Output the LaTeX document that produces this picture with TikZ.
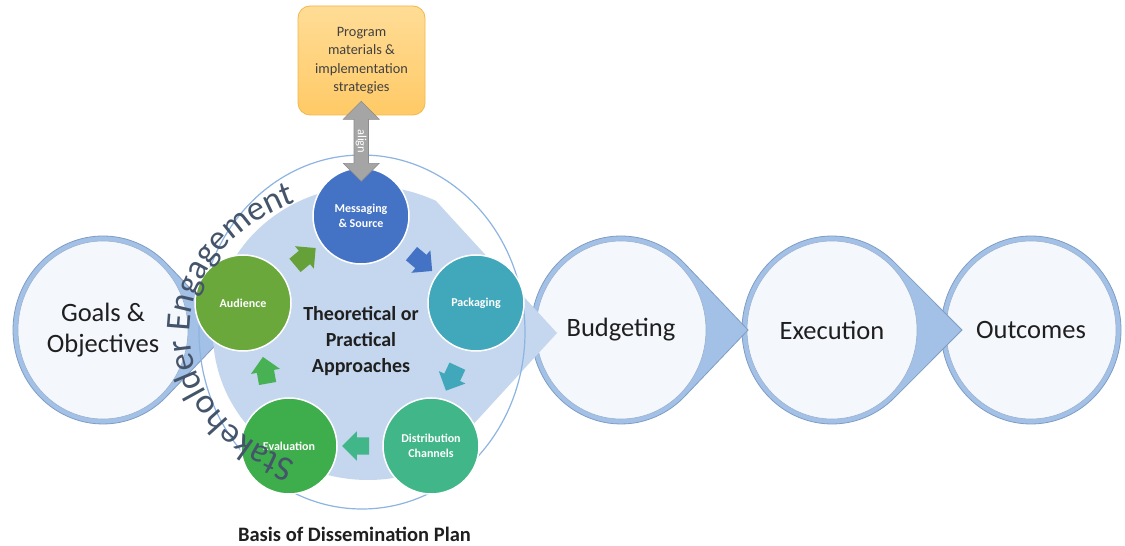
\documentclass[tikz,border=0pt]{standalone}
\usepackage{fontspec}
\setmainfont{Carlito}
\usetikzlibrary{calc,shapes.arrows,decorations.text}
\definecolor{ringblue}{HTML}{A3C1E6}
\definecolor{ringedge}{HTML}{7F9DC4}
\definecolor{innerfill}{HTML}{F4F7FC}
\definecolor{bigfill}{HTML}{C4D7EF}
\definecolor{thinline}{HTML}{8DB4E2}
\definecolor{cmsg}{HTML}{4472C4}
\definecolor{cpack}{HTML}{41A7BA}
\definecolor{cdist}{HTML}{40B689}
\definecolor{ceval}{HTML}{3EAD4B}
\definecolor{caud}{HTML}{6AA83C}
\definecolor{stk}{HTML}{44546A}
\definecolor{txt}{HTML}{1F1F1F}
\definecolor{boxtop}{HTML}{FFDC96}
\definecolor{boxbot}{HTML}{FFCA66}
\definecolor{boxedge}{HTML}{F2B84B}
\definecolor{graya}{HTML}{A5A5A5}
\definecolor{grayb}{HTML}{8C8C8C}
\newcommand\ringarrow[5]{%
  \pgfmathsetmacro\myang{acos(#3/#5)}%
  \filldraw[fill=ringblue, draw=ringedge, line width=0.8pt]
    (#1+#5,#2) -- ([shift={(#1,#2)}]\myang:#3pt and #4pt)
    arc[start angle=\myang, end angle=360-\myang, x radius=#3pt, y radius=#4pt] -- cycle;
  \filldraw[fill=innerfill, draw=ringedge!80, line width=0.6pt]
    (#1,#2) ellipse[x radius=#3pt-5pt, y radius=#4pt-5pt];
}
\newcommand\ringplain[4]{%
  \filldraw[fill=ringblue, draw=ringedge, line width=0.8pt]
    (#1,#2) ellipse[x radius=#3pt, y radius=#4pt];
  \filldraw[fill=innerfill, draw=ringedge!80, line width=0.6pt]
    (#1,#2) ellipse[x radius=#3pt-5pt, y radius=#4pt-5pt];
}
\begin{document}
\begin{tikzpicture}[x=1pt,y=1pt,
  bigtxt/.style={font=\fontsize{26.5}{31}\selectfont, text=txt, align=center, inner sep=0pt},
  smallc/.style={circle, minimum size=96pt, inner sep=0pt, draw=white, line width=1.5pt,
    text=white, font=\bfseries\fontsize{12}{15}\selectfont, align=center},
  cyc/.style={single arrow, fill=#1, draw=none, minimum height=27pt, minimum width=29pt,
    single arrow head extend=6pt, inner sep=0pt}
]
\useasboundingbox (0,0) rectangle (1125,546);
\fill[white] (0,0) rectangle (1125,546);

% right-hand chain (drawn back to front)
\ringplain{1031}{216}{90}{94}
\ringarrow{832}{216}{90}{94}{130}
\ringarrow{621}{216}{90}{94}{127}
\ringarrow{103}{216}{90}{94}{127}

% big light shape
\fill[bigfill] ([shift={(368,213)}]64:155pt and 147pt)
  arc[start angle=64, end angle=296, x radius=155pt, y radius=147pt] -- (557,213) -- cycle;
\draw[thinline, line width=1.2pt] (362,214) ellipse[x radius=163pt, y radius=177pt];

% cycle circles
\node[smallc, fill=cmsg]  (msg)  at (361,330) {Messaging\\\& Source};
\node[smallc, fill=cpack] (pack) at (476,243) {Packaging};
\node[smallc, fill=cdist] (dist) at (431,100) {Distribution\\Channels};
\node[smallc, fill=ceval] (eval) at (289,100) {Evaluation};
\node[smallc, fill=caud]  (aud)  at (243,243) {Audience};

% cycle arrows
\node[cyc=caud!95!black, rotate=40]   (a1) at ($(aud)!0.5!(msg)$) {\rule{0pt}{17pt}};
\node[cyc=cmsg, rotate=-40]           (a2) at ($(msg)!0.5!(pack)$) {\rule{0pt}{17pt}};
\node[cyc=cpack, rotate=245]          (a3) at ($(pack)!0.5!(dist)$) {\rule{0pt}{17pt}};
\node[cyc=cdist, rotate=180]          (a4) at ($(dist)!0.5!(eval)$) {\rule{0pt}{17pt}};
\node[cyc=ceval!95!white, rotate=100] (a5) at ($(eval)!0.5!(aud)$) {\rule{0pt}{17pt}};

\node[font=\bfseries\fontsize{20}{26}\selectfont, text=txt, align=center] (core) at (361,205)
  {Theoretical or\\Practical\\Approaches};

% program box and align arrow
\node[draw=boxedge, line width=0.8pt, top color=boxtop, bottom color=boxbot, rounded corners=12pt,
  minimum width=127pt, minimum height=109pt, text=txt!85, align=center,
  font=\fontsize{14.3}{18.5}\selectfont] (prog) at (361.5,485.5)
  {Program\\materials \&\\implementation\\strategies};
\node[double arrow, rotate=-90, fill=graya, draw=grayb, line width=0.6pt,
  minimum height=80pt, minimum width=36pt, double arrow head extend=10pt,
  inner xsep=2pt, inner ysep=1pt,
  text=white, font=\fontsize{12.5}{12.5}\selectfont] (alignarr) at ($(prog.south)!0.5!(msg.north)$) {align};

% stakeholder engagement arched text
\path[decorate, decoration={text along path, text align=center, text color=stk,
  text={|\fontsize{35}{35}\selectfont|Stakeholder Engagement}}]
  ([shift={(362,214)}]256:172pt and 140pt)
  arc[start angle=256, end angle=104, x radius=172pt, y radius=140pt];

% labels
\node[bigtxt] (goals) at (103,216) {Goals \&\\Objectives};
\node[bigtxt] (budg)  at (621,216) {Budgeting};
\node[bigtxt] (exec)  at (832,216) {Execution};
\node[bigtxt] (outc)  at (1031,216) {Outcomes};
\node[font=\bfseries\fontsize{20.5}{24}\selectfont, text=txt, anchor=base] (basis) at (354.5,4)
  {Basis of Dissemination Plan};
\end{tikzpicture}
\end{document}
